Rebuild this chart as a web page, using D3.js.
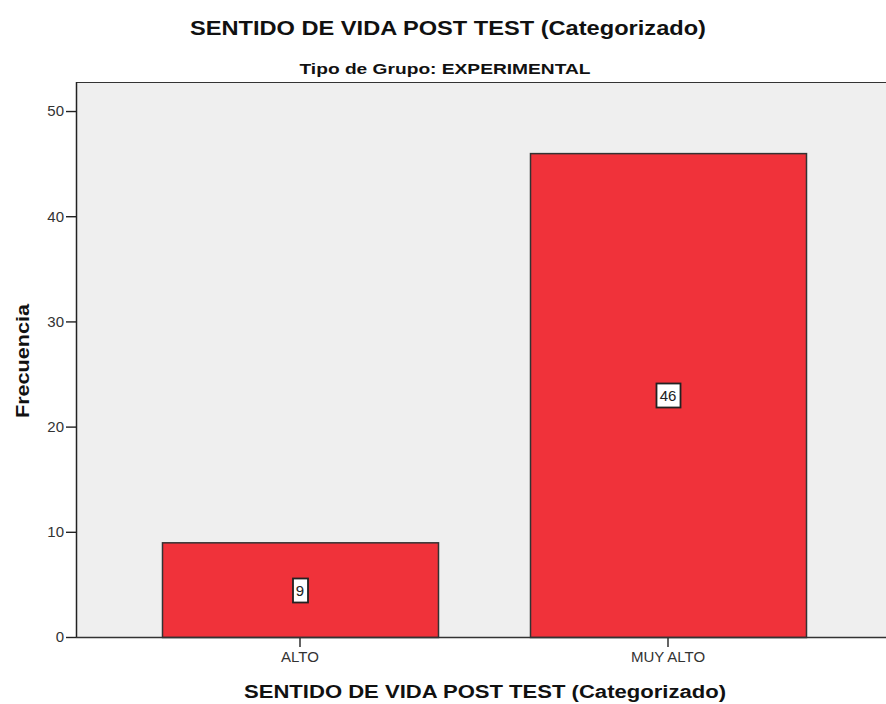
<!DOCTYPE html>
<html>
<head>
<meta charset="utf-8">
<script src="https://cdn.jsdelivr.net/npm/d3@7"></script>
<style>
  body { margin: 0; background: #fff; }
  text { font-family: "Liberation Sans", Arial, sans-serif; }
</style>
</head>
<body>
<div id="chart"></div>
<script>
// categories and counts
const categories = ["ALTO", "MUY ALTO"];
const counts = [9, 46];
const yTicks = [0, 10, 20, 30, 40, 50];

const width = 886, height = 704;
const plot = { left: 76, right: 886, top: 82, bottom: 637 };

const svg = d3.select("#chart").append("svg")
    .attr("width", width)
    .attr("height", height);

const x = d3.scaleBand()
    .domain(categories)
    .range([116, 852])
    .paddingInner(0.25)
    .paddingOuter(0.125);

const y = d3.scaleLinear()
    .domain([0, 52.76])
    .range([plot.bottom, plot.top]);

// plot background
svg.append("rect")
    .attr("x", plot.left)
    .attr("y", plot.top)
    .attr("width", plot.right - plot.left)
    .attr("height", plot.bottom - plot.top)
    .attr("fill", "#efefef");

svg.append("line")
    .attr("x1", plot.left).attr("x2", plot.right)
    .attr("y1", plot.top + 0.5).attr("y2", plot.top + 0.5)
    .attr("stroke", "#333");

// bars
svg.selectAll("rect.bar")
    .data(counts)
    .enter()
    .append("rect")
    .attr("class", "bar")
    .attr("x", (d, i) => x(categories[i]) + 0.5)
    .attr("y", d => y(d) + 0.5)
    .attr("width", x.bandwidth())
    .attr("height", d => y(0) - y(d))
    .attr("fill", "#f0323a")
    .attr("stroke", "#333")
    .attr("stroke-width", 1.5);

// value labels
const labels = svg.selectAll("g.lbl")
    .data(counts)
    .enter()
    .append("g")
    .attr("class", "lbl")
    .attr("transform", (d, i) =>
        `translate(${Math.round(x(categories[i]) + x.bandwidth() / 2)},${Math.round(y(d / 2))})`);

labels.append("rect")
    .attr("x", d => -(String(d).length * 4.5 + 3) + 0.5)
    .attr("y", -11.5)
    .attr("width", d => String(d).length * 9 + 6)
    .attr("height", 24)
    .attr("fill", "#fff")
    .attr("stroke", "#222")
    .attr("stroke-width", 1.8);

labels.append("text")
    .attr("text-anchor", "middle")
    .attr("dy", "0.36em")
    .attr("y", 1)
    .attr("font-size", 15)
    .attr("fill", "#222")
    .text(d => d);

// axes
const yAxis = svg.append("g")
    .attr("transform", `translate(${plot.left},0)`)
    .call(d3.axisLeft(y).tickValues(yTicks).tickSize(10).tickSizeOuter(0));
yAxis.select(".domain").remove();
yAxis.append("line")
    .attr("x1", 0.5).attr("x2", 0.5)
    .attr("y1", plot.top).attr("y2", plot.bottom + 1)
    .attr("stroke", "#222").attr("stroke-width", 1.5);
yAxis.selectAll(".tick line").attr("stroke", "#222").attr("stroke-width", 1.4);
yAxis.selectAll(".tick text")
    .attr("x", -12)
    .attr("font-size", 15)
    .attr("font-family", "Liberation Sans, Arial, sans-serif")
    .attr("fill", "#333");

const xAxis = svg.append("g")
    .attr("transform", `translate(0,${plot.bottom})`)
    .call(d3.axisBottom(x).tickSize(10).tickSizeOuter(0));
xAxis.select(".domain").remove();
xAxis.append("line")
    .attr("x1", plot.left).attr("x2", plot.right)
    .attr("y1", 0.5).attr("y2", 0.5)
    .attr("stroke", "#333").attr("stroke-width", 1.5);
xAxis.selectAll(".tick line").attr("stroke", "#222").attr("stroke-width", 1.4);
xAxis.selectAll(".tick text")
    .attr("y", 14)
    .attr("font-size", 15)
    .attr("font-family", "Liberation Sans, Arial, sans-serif")
    .attr("fill", "#333");

// titles
svg.append("text")
    .attr("x", 448).attr("y", 35)
    .attr("text-anchor", "middle")
    .attr("font-size", 21)
    .attr("font-weight", "bold")
    .attr("fill", "#111")
    .attr("textLength", 516)
    .attr("lengthAdjust", "spacingAndGlyphs")
    .text("SENTIDO DE VIDA POST TEST (Categorizado)");

svg.append("text")
    .attr("x", 445).attr("y", 74)
    .attr("text-anchor", "middle")
    .attr("font-size", 15)
    .attr("font-weight", "bold")
    .attr("fill", "#111")
    .attr("textLength", 291)
    .attr("lengthAdjust", "spacingAndGlyphs")
    .text("Tipo de Grupo: EXPERIMENTAL");

svg.append("text")
    .attr("x", 485).attr("y", 698)
    .attr("text-anchor", "middle")
    .attr("font-size", 18)
    .attr("font-weight", "bold")
    .attr("fill", "#111")
    .attr("textLength", 482)
    .attr("lengthAdjust", "spacingAndGlyphs")
    .text("SENTIDO DE VIDA POST TEST (Categorizado)");

svg.append("text")
    .attr("transform", "translate(29,361) rotate(-90)")
    .attr("text-anchor", "middle")
    .attr("font-size", 19)
    .attr("font-weight", "bold")
    .attr("fill", "#111")
    .attr("textLength", 114)
    .attr("lengthAdjust", "spacingAndGlyphs")
    .text("Frecuencia");
</script>
</body>
</html>
